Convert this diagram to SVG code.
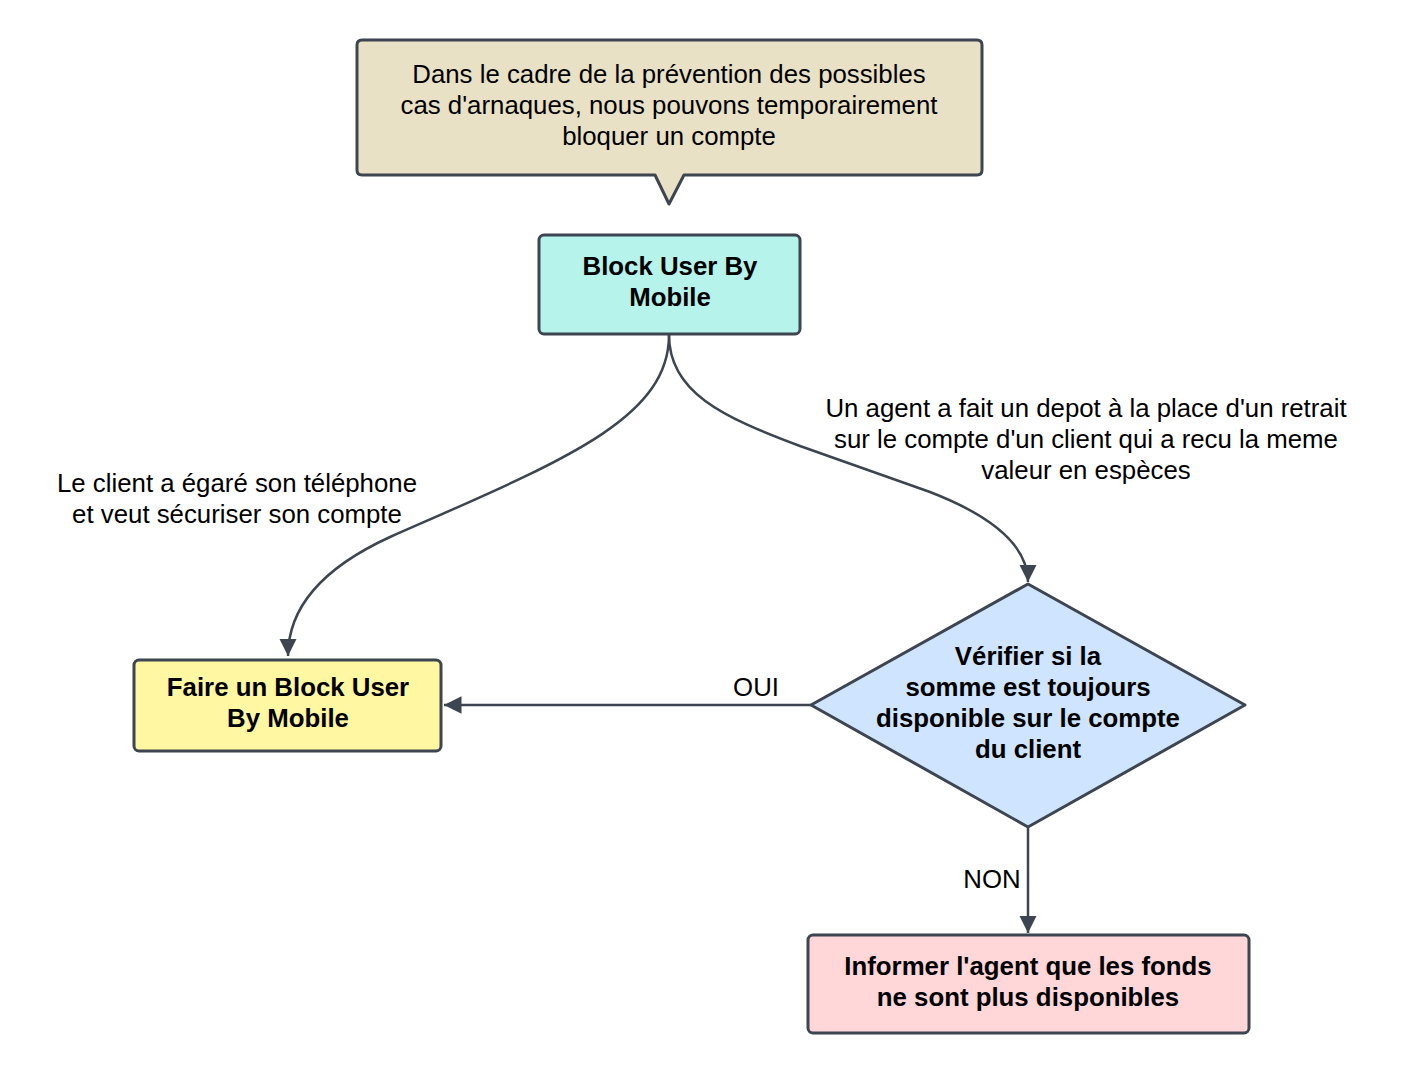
<svg xmlns="http://www.w3.org/2000/svg" width="1402" height="1074" viewBox="0 0 1402 1074">
<style>
.shape{stroke:#3d4550;stroke-width:3;stroke-linejoin:round}
.t{font-family:"Liberation Sans",Arial,sans-serif;font-size:25.8px;fill:#000;text-anchor:middle}
.b{font-weight:bold}
.edge{fill:none;stroke:#3d4550;stroke-width:2.5}
</style>
<defs>
<marker id="arr" viewBox="0 0 10 10" refX="10" refY="5" markerWidth="7" markerHeight="7" markerUnits="strokeWidth" orient="auto">
<path d="M0,0 L10,5 L0,10 Z" fill="#3d4550"/>
</marker>
</defs>
<rect width="1402" height="1074" fill="#ffffff"/>
<g id="connectors">
<path class="edge" d="M669,335 C669,420 560,462 390,537 C318,570 288,610 288,656" marker-end="url(#arr)"/>
<path class="edge" d="M669,335 C669,392 722,417 800,446 L930,492 C992,516 1028,545 1028,582" marker-end="url(#arr)"/>
<path class="edge" d="M811,705 L444,705" marker-end="url(#arr)"/>
<path class="edge" d="M1028,827 L1028,933" marker-end="url(#arr)"/>
<text class="t" x="756" y="696">OUI</text>
<text class="t" x="992" y="888">NON</text>
<text class="t" x="237" y="492">Le client a égaré son téléphone</text>
<text class="t" x="237" y="523">et veut sécuriser son compte</text>
<text class="t" x="1086" y="417">Un agent a fait un depot à la place d'un retrait</text>
<text class="t" x="1086" y="448">sur le compte d'un client qui a recu la meme</text>
<text class="t" x="1086" y="479">valeur en espèces</text>
</g>
<g id="callout">
<path class="shape" fill="#e8e1c6" d="M362,40 L977,40 Q982,40 982,45 L982,170 Q982,175 977,175 L684,175 L669,204 L655,175 L362,175 Q357,175 357,170 L357,45 Q357,40 362,40 Z"/>
<text class="t" x="669" y="83">Dans le cadre de la prévention des possibles</text>
<text class="t" x="669" y="114">cas d'arnaques, nous pouvons temporairement</text>
<text class="t" x="669" y="145">bloquer un compte</text>
</g>
<g id="block-user">
<rect class="shape" fill="#b5f3eb" x="539" y="235" width="261" height="99" rx="5"/>
<text class="t b" x="670" y="275">Block User By</text>
<text class="t b" x="670" y="306">Mobile</text>
</g>
<g id="faire-block">
<rect class="shape" fill="#fff7a1" x="134" y="660" width="307" height="91" rx="5"/>
<text class="t b" x="288" y="696">Faire un Block User</text>
<text class="t b" x="288" y="727">By Mobile</text>
</g>
<g id="verifier">
<path class="shape" fill="#cfe4ff" d="M1028,584 L1245,705 L1028,827 L811,705 Z"/>
<text class="t b" x="1028" y="665">Vérifier si la</text>
<text class="t b" x="1028" y="696">somme est toujours</text>
<text class="t b" x="1028" y="727">disponible sur le compte</text>
<text class="t b" x="1028" y="758">du client</text>
</g>
<g id="informer">
<rect class="shape" fill="#ffd7d9" x="808" y="935" width="441" height="98" rx="5"/>
<text class="t b" x="1028" y="975">Informer l'agent que les fonds</text>
<text class="t b" x="1028" y="1006">ne sont plus disponibles</text>
</g>
</svg>
